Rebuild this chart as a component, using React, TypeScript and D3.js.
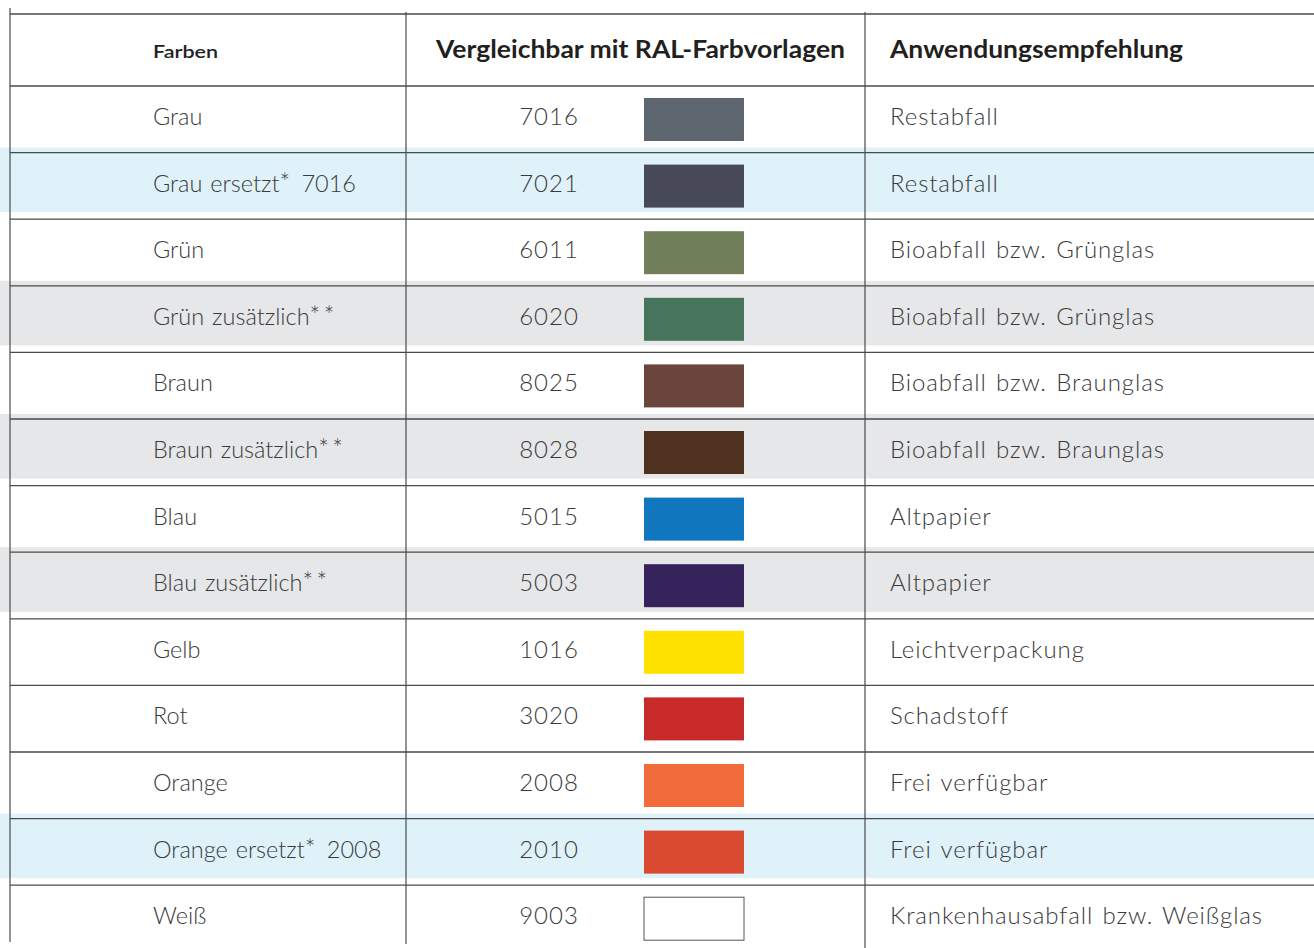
import React from "react";
import * as d3 from "d3";

const headers = ["Farben", "Vergleichbar mit RAL-Farbvorlagen", "Anwendungsempfehlung"];
const farben = [
  "Grau", "Grau ersetzt* 7016", "Grün", "Grün zusätzlich**", "Braun", "Braun zusätzlich**",
  "Blau", "Blau zusätzlich**", "Gelb", "Rot", "Orange", "Orange ersetzt* 2008", "Weiß",
];
const ralCodes = ["7016", "7021", "6011", "6020", "8025", "8028", "5015", "5003", "1016", "3020", "2008", "2010", "9003"];
const swatchColors = [
  "#5e6670", "#474a56", "#71805b", "#46755c", "#6a453b", "#4e311f",
  "#1076bd", "#37235c", "#ffe100", "#c72a29", "#f26b3b", "#d94a30", "#ffffff",
];
const empfehlungen = [
  "Restabfall", "Restabfall", "Bioabfall bzw. Grünglas", "Bioabfall bzw. Grünglas",
  "Bioabfall bzw. Braunglas", "Bioabfall bzw. Braunglas", "Altpapier", "Altpapier",
  "Leichtverpackung", "Schadstoff", "Frei verfügbar", "Frei verfügbar",
  "Krankenhausabfall bzw. Weißglas",
];
const shading = ["none", "blue", "none", "gray", "none", "gray", "none", "gray", "none", "none", "none", "blue", "none"];

const W = 1314;
const H = 948;
const shadeColor: Record<string, string> = { none: "none", blue: "#dff2fa", gray: "#e6e7e9" };

function splitStars(s: string) {
  return s.split(/(\*+)/).filter((p) => p.length > 0);
}

export default function App() {
  const rowIdx = farben.map((_, i) => i);
  const y = d3.scaleBand<number>().domain(rowIdx).range([86, 86 + 13 * 66.6]).padding(0);
  const colEdges = [10, 406, 865, W];
  const bw = y.bandwidth();
  const font = "Lato, 'Open Sans', sans-serif";
  const lineColor = "#4a4a4a";

  return (
    <svg width={W} height={H} style={{ position: "absolute", left: 0, top: 0, background: "#fff" }}>
      {rowIdx.map((i) =>
        shading[i] === "none" ? null : (
          <rect key={"s" + i} x={0} y={(y(i) as number) - 5} width={W} height={bw - 2} fill={shadeColor[shading[i]]} />
        )
      )}
      {[14, ...rowIdx.map((i) => y(i) as number)].map((yy, k) => (
        <line key={"h" + k} x1={colEdges[0]} x2={W} y1={yy} y2={yy} stroke={lineColor} strokeWidth={1.3} />
      ))}
      <line x1={10} x2={10} y1={8} y2={942} stroke={lineColor} strokeWidth={1.2} />
      <line x1={406} x2={406} y1={12} y2={944} stroke={lineColor} strokeWidth={1.2} />
      <line x1={865} x2={865} y1={12} y2={H} stroke={lineColor} strokeWidth={1.2} />

      <g fill="#231f20" fontFamily={font} fontWeight={700}>
        <text x={153} y={58} fontSize={18} fontWeight={600} textLength={65} lengthAdjust="spacingAndGlyphs">{headers[0]}</text>
        <text x={436} y={58} fontSize={25} textLength={409} lengthAdjust="spacingAndGlyphs">{headers[1]}</text>
        <text x={890} y={58} fontSize={25} textLength={293} lengthAdjust="spacingAndGlyphs">{headers[2]}</text>
      </g>

      <g fontFamily={font} fontWeight={300} fill="#3a3a3a">
        {rowIdx.map((i) => {
          const top = y(i) as number;
          const base = top + 39;
          return (
            <g key={"r" + i}>
              <text x={153} y={base} fontSize={23.5} wordSpacing={1.5}>
                {splitStars(farben[i]).map((p, k) =>
                  p.startsWith("*") ? (
                    <tspan key={k} fontSize={25} letterSpacing={3.5}>{p}</tspan>
                  ) : (
                    <tspan key={k}>{p}</tspan>
                  )
                )}
              </text>
              <text x={549} y={base} textAnchor="middle" fontSize={24} letterSpacing={1}>{ralCodes[i]}</text>
              <rect
                x={644}
                y={top + 12}
                width={100}
                height={43}
                fill={swatchColors[i]}
                stroke={swatchColors[i] === "#ffffff" ? "#555" : "none"}
                strokeWidth={1}
              />
              <text x={890} y={base} fontSize={24} letterSpacing={0.9} wordSpacing={2}>{empfehlungen[i]}</text>
            </g>
          );
        })}
      </g>
    </svg>
  );
}
